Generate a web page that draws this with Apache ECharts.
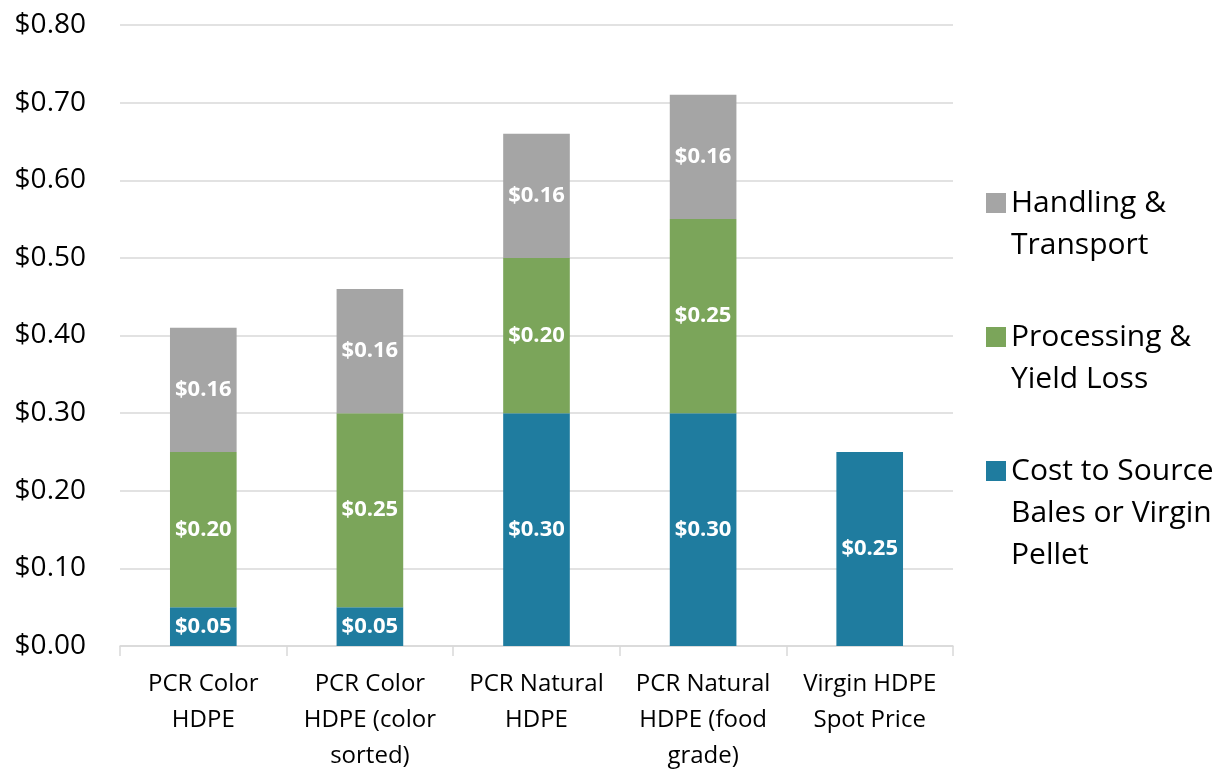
<!DOCTYPE html>
<html>
<head>
<meta charset="utf-8">
<script src="https://cdn.jsdelivr.net/npm/echarts@6/dist/echarts.min.js"></script>
<style>html,body{margin:0;padding:0;background:#fff;}#c{width:1220px;height:769px;}</style>
</head>
<body>
<div id="c"></div>
<script>
const categories = ['PCR Color\nHDPE', 'PCR Color\nHDPE (color\nsorted)', 'PCR Natural\nHDPE', 'PCR Natural\nHDPE (food\ngrade)', 'Virgin HDPE\nSpot Price'];
const seriesNames = ['Cost to Source Bales or Virgin Pellet', 'Processing & Yield Loss', 'Handling & Transport'];
const legendLabels = ['Cost to Source\nBales or Virgin\nPellet', 'Processing &\nYield Loss', 'Handling &\nTransport'];
const costToSource = [0.05, 0.05, 0.30, 0.30, 0.25];
const processing = [0.20, 0.25, 0.20, 0.25, 0];
const handling = [0.16, 0.16, 0.16, 0.16, 0];
const colors = ['#1F7C9F', '#7BA55A', '#A5A5A5'];
const yTicks = { min: 0, max: 0.8, interval: 0.1 };

const font = 'Open Sans';
const seriesData = [costToSource, processing, handling];
const LH = 42;

function mkLegend(i, top) {
  const lines = legendLabels[i].split('\n').length;
  // pad with blank lines on top so that the icon lines up with the first text line
  const pad = new Array(lines - 1).fill(' ').join('\n');
  return {
    data: [seriesNames[i]],
    orient: 'vertical', left: 986, top: top, padding: 0,
    itemWidth: 20, itemHeight: 20, icon: 'rect',
    formatter: () => pad + '\n' + legendLabels[i],
    textStyle: { fontFamily: font, fontSize: 30, lineHeight: LH, color: '#000' }
  };
}

const chart = echarts.init(document.getElementById('c'), null, { renderer: 'canvas' });
chart.setOption({
  animation: false,
  color: colors,
  grid: { left: 120, right: 267, top: 25, bottom: 123, outerBoundsMode: 'none', containLabel: false },
  legend: [mkLegend(2, 140), mkLegend(1, 274), mkLegend(0, 366)],
  xAxis: {
    type: 'category', data: categories,
    axisLine: { lineStyle: { color: '#D9D9D9', width: 1.5 } },
    axisTick: { show: true, length: 10, lineStyle: { color: '#D9D9D9', width: 1.5 } },
    axisLabel: { fontFamily: font, fontSize: 24, lineHeight: 36, color: '#000', margin: 20, interval: 0 }
  },
  yAxis: {
    type: 'value', min: yTicks.min, max: yTicks.max, interval: yTicks.interval,
    axisLine: { show: false }, axisTick: { show: false },
    splitLine: { lineStyle: { color: '#D9D9D9', width: 1.5 } },
    axisLabel: { fontFamily: font, fontSize: 28, color: '#000', margin: 34, formatter: v => '$' + v.toFixed(2) }
  },
  series: seriesData.map((d, i) => ({
    name: seriesNames[i], type: 'bar', stack: 'total', barWidth: '40%', data: d,
    itemStyle: { color: colors[i] },
    label: {
      show: true, position: 'inside', color: '#fff', fontFamily: font, fontWeight: 'bold', fontSize: 22,
      formatter: p => p.value > 0 ? '$' + p.value.toFixed(2) : ''
    }
  }))
});
</script>
</body>
</html>
